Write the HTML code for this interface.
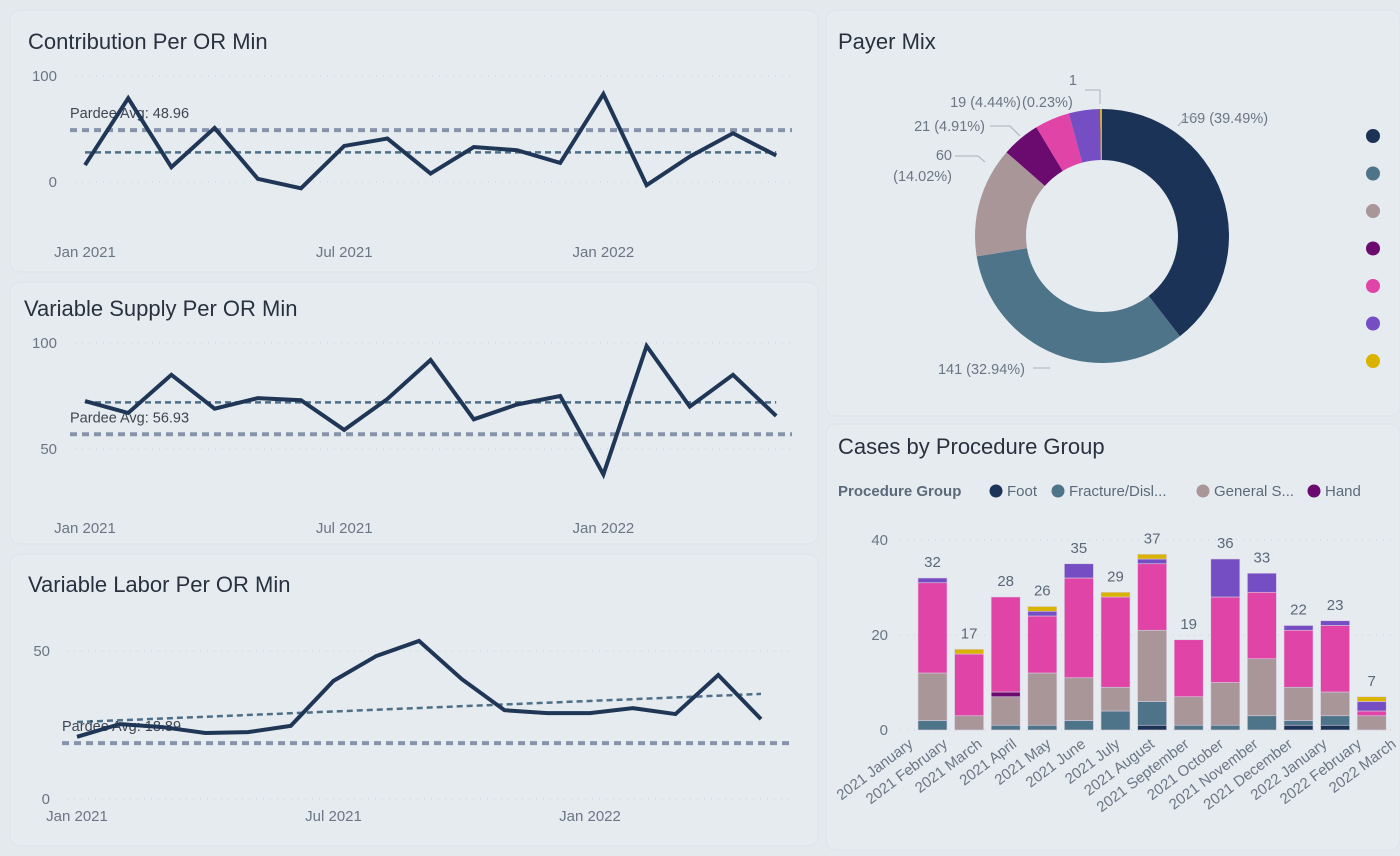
<!DOCTYPE html>
<html><head><meta charset="utf-8">
<style>
body{margin:0;width:1400px;height:856px;background:#e4e9ee;font-family:"Liberation Sans",sans-serif;overflow:hidden}
svg{position:absolute;left:0;top:0}
.t{font-size:22px;fill:#28323f}
.ax{font-size:15px;fill:#6a7684}
.lb{font-size:14.5px;fill:#6a7684}
</style></head>
<body>
<svg id="s" width="1400" height="856">
<rect x="10" y="10" width="808" height="262" rx="10" fill="#e6ebf0" stroke="#dde3e9"/>
<rect x="10" y="282" width="808" height="262" rx="10" fill="#e6ebf0" stroke="#dde3e9"/>
<rect x="10" y="554" width="808" height="292" rx="10" fill="#e6ebf0" stroke="#dde3e9"/>
<rect x="826" y="10" width="574" height="406" rx="10" fill="#e6ebf0" stroke="#dde3e9"/>
<rect x="826" y="424" width="574" height="426" rx="10" fill="#e6ebf0" stroke="#dde3e9"/>
<text x="28" y="49" class="t">Contribution Per OR Min</text>
<text x="24" y="316" class="t">Variable Supply Per OR Min</text>
<text x="28" y="592" class="t">Variable Labor Per OR Min</text>
<text x="838" y="49" class="t">Payer Mix</text>
<text x="838" y="454" class="t">Cases by Procedure Group</text>
</svg>
<script>
const months=["Jan 2021","Feb 2021","Mar 2021","Apr 2021","May 2021","Jun 2021","Jul 2021","Aug 2021","Sep 2021","Oct 2021","Nov 2021","Dec 2021","Jan 2022","Feb 2022","Mar 2022","Apr 2022","May 2022"];
const contribValues=[16,79,14,51,3,-6,34,41,8,33,30,18,83,-3,24,46,25];
const supplyValues=[72.6,67,85,69,74,73,59,73.6,92,64,71,75,38,98.6,70,85,65.6];
const laborValues=[21,25.3,24.3,22.3,22.6,24.7,39.9,48.3,53.4,40.5,30,29,29,30.7,28.7,41.9,27];
const contribAvg=48.96, supplyAvg=56.93, laborAvg=18.89;
const contribTrend=[28,28], supplyTrend=[72,72], laborTrend=[26,35.5];
const contribTicks=[0,100], supplyTicks=[50,100], laborTicks=[0,50];
const xTickLabels=["Jan 2021","Jul 2021","Jan 2022"];

const payerValues=[169,141,60,21,19,17,1];
const payerLabels=["169 (39.49%)","141 (32.94%)","60 (14.02%)","21 (4.91%)","19 (4.44%)","(0.23%)","1"];
const payerColors=["#1c3358","#4e7489","#a99699","#6b0a6f","#e044a7","#744ec2","#d9b300"];

const procCategories=["2021 January","2021 February","2021 March","2021 April","2021 May","2021 June","2021 July","2021 August","2021 September","2021 October","2021 November","2021 December","2022 January","2022 February","2022 March"];
const footVals=[0,0,0,0,0,0,1,0,0,0,1,1,0];
const fractureVals=[2,0,1,1,2,4,5,1,1,3,1,2,0];
const generalVals=[10,3,6,11,9,5,15,6,9,12,7,5,3];
const handVals=[0,0,1,0,0,0,0,0,0,0,0,0,0];
const pinkVals=[19,13,20,12,21,19,14,12,18,14,12,14,1];
const violetVals=[1,0,0,1,3,0,1,0,8,4,1,1,2];
const goldVals=[0,1,0,1,0,1,1,0,0,0,0,0,1];
const procTicks=[0,20,40];

const S=document.getElementById('s');
const NS="http://www.w3.org/2000/svg";
function mk(tag,attrs,parent){const e=document.createElementNS(NS,tag);for(const k in attrs)e.setAttribute(k,attrs[k]);(parent||S).appendChild(e);return e;}

function lineChart(cfg){
  const g=mk('g',{});
  
  
  const x=i=>cfg.x0+i*cfg.step;
  const y=v=>cfg.y0-(v-cfg.v0)*cfg.k;
  cfg.ticks.forEach(t=>{
    const gl=mk('line',{x1:cfg.x0-10,x2:790,y1:y(t),y2:y(t),stroke:'#c9d0d8','stroke-dasharray':'1 6'},g);
    
    
    const tl=mk('text',{x:cfg.tickX,y:y(t)+5,'text-anchor':'end',class:'ax'},g);
    tl.textContent=t;
    
    
  });
  xTickLabels.forEach(lbl=>{
    const i=months.indexOf(lbl);
    const tl=mk('text',{x:x(i),y:cfg.xLabelY,'text-anchor':'middle',class:'ax'},g);
    tl.textContent=lbl;
    
    
  });
  const al=mk('line',{x1:cfg.x0-15,x2:792,y1:y(cfg.avg),y2:y(cfg.avg),stroke:'#8793aa','stroke-width':4,'stroke-dasharray':'7 5'},g);
  
  
  const tr=mk('line',{x1:x(0),x2:x(months.length-1),y1:y(cfg.trend[0]),y2:y(cfg.trend[1]),stroke:'#4e6f86','stroke-width':2.5,'stroke-dasharray':'6 4'},g);
  
  
  const at=mk('text',{x:cfg.x0-15,y:y(cfg.avg)-12,style:'font-size:14.5px;fill:#3d4652'},g);
  at.textContent='Pardee Avg: '+cfg.avg;
  
  
  const pts=cfg.values.map((v,i)=>x(i)+','+y(v)).join(' ');
  const pl=mk('polyline',{points:pts,fill:'none',stroke:'#1f3656','stroke-width':4,'stroke-linejoin':'miter'},g);
  
  
}
lineChart({name:'contribution-chart',values:contribValues,avg:contribAvg,trend:contribTrend,ticks:contribTicks,x0:85,step:43.2,y0:182,v0:0,k:1.06,tickX:57,xLabelY:257});
lineChart({name:'supply-chart',values:supplyValues,avg:supplyAvg,trend:supplyTrend,ticks:supplyTicks,x0:85,step:43.2,y0:449,v0:50,k:2.12,tickX:57,xLabelY:533});
lineChart({name:'labor-chart',values:laborValues,avg:laborAvg,trend:laborTrend,ticks:laborTicks,x0:77,step:42.75,y0:799,v0:0,k:2.96,tickX:50,xLabelY:821});

// donut
(function(){
  const cx=1102,cy=236,R=127,r=76;
  const tot=payerValues.reduce((a,b)=>a+b,0);
  let a=0;
  const g=mk('g',{});
  
  
  payerValues.forEach((v,i)=>{
    const a0=a, a1=a+v/tot*2*Math.PI; a=a1;
    const p=(ang,rad)=>[cx+rad*Math.sin(ang),cy-rad*Math.cos(ang)];
    const [x0,y0]=p(a0,R),[x1,y1]=p(a1,R),[x2,y2]=p(a1,r),[x3,y3]=p(a0,r);
    const lg=(a1-a0)>Math.PI?1:0;
    const s=mk('path',{d:`M${x0},${y0}A${R},${R} 0 ${lg} 1 ${x1},${y1}L${x2},${y2}A${r},${r} 0 ${lg} 0 ${x3},${y3}Z`,fill:payerColors[i]},g);
    
    
  });
  const labs=[[1181,123,'start'],[1025,374,'end'],[952,160,'end'],[985,131,'end'],[1021,107,'end'],[1022,107,'start'],[1077,85,'end']];
  payerLabels.forEach((t,i)=>{
    const e=mk('text',{x:labs[i][0],y:labs[i][1],'text-anchor':labs[i][2],class:'lb'},g);
    if(i===2){e.textContent='60';
      const e2=mk('text',{x:952,y:181,'text-anchor':'end',class:'lb'},g);e2.textContent='(14.02%)';
      
      }
    else e.textContent=t;
    
    
  });
  [[1178,126,1186,117],[1186,117,1200,117],[1033,368,1050,368],[990,126,1010,126],[1010,126,1020,136],[1100,90,1100,104],[1085,90,1100,90],[955,156,978,156],[978,156,985,162]].forEach(l=>{
    const ln=mk('line',{x1:l[0],y1:l[1],x2:l[2],y2:l[3],stroke:'#a6b0bb'},g);
    
    
  });
  payerColors.forEach((c,i)=>{
    const d=mk('circle',{cx:1373,cy:136+i*37.5,r:7,fill:c},g);
    
    
  });
})();

// stacked bars
(function(){
  const g=mk('g',{});
  
  
  const y=v=>730-v*4.75;
  const x=i=>918+i*36.6;
  procTicks.forEach(t=>{
    const gl=mk('line',{x1:900,x2:1395,y1:y(t),y2:y(t),stroke:'#c9d0d8','stroke-dasharray':'1 6'},g);
    
    
    const tl=mk('text',{x:888,y:y(t)+5,'text-anchor':'end',class:'ax'},g);
    tl.textContent=t;
    
    
  });
  const series=[footVals,fractureVals,generalVals,handVals,pinkVals,violetVals,goldVals];
  footVals.forEach((_,i)=>{
    let acc=0;
    series.forEach((sv,k)=>{
      const v=sv[i]; if(!v) return;
      const r=mk('rect',{x:x(i),y:y(acc+v),width:29,height:v*4.75,fill:payerColors[k],stroke:'#d8cce0','stroke-width':0.6},g);
      
      
      acc+=v;
    });
    const t=mk('text',{x:x(i)+14.5,y:y(acc)-11,'text-anchor':'middle',style:'font-size:15px;fill:#5b6878'},g);
    t.textContent=acc;
    
    
  });
  procCategories.forEach((c,i)=>{
    const tx=914+i*34.5;
    const t=mk('text',{x:tx,y:746,'text-anchor':'end',transform:`rotate(-37 ${tx} 746)`,class:'ax'},g);
    t.textContent=c;
    
    
  });
  const lt=mk('text',{x:838,y:496,style:'font-size:15px;font-weight:bold;fill:#5b6a7a'},g);
  lt.textContent='Procedure Group';
  
  
  const items=[['Foot',996],['Fracture/Disl...',1058],['General S...',1203],['Hand',1314]];
  items.forEach((it,i)=>{
    const c=mk('circle',{cx:it[1],cy:491,r:6.5,fill:payerColors[i]},g);
    
    
    const t=mk('text',{x:it[1]+11,y:496,style:'font-size:15px;fill:#5b6a7a'},g);
    t.textContent=it[0];
    
    
  });
})();
</script>
</body></html>
